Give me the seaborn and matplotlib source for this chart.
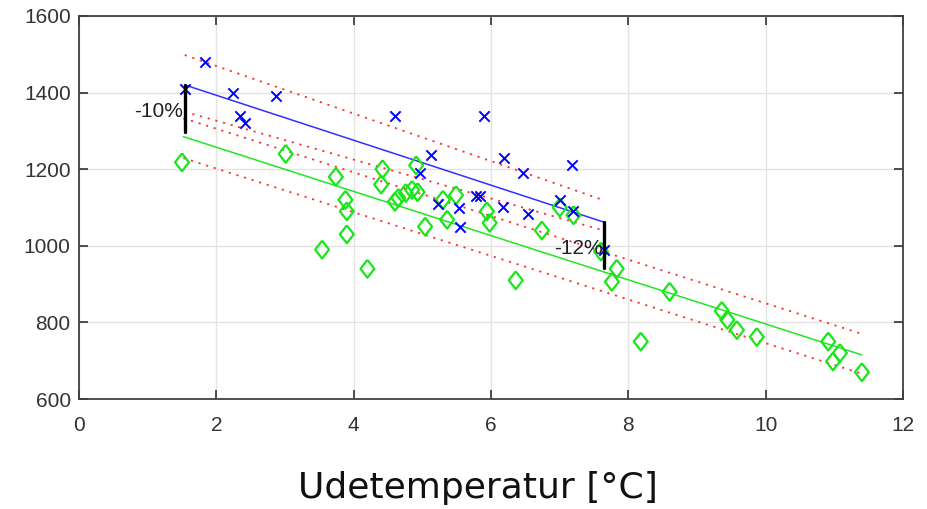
import matplotlib
matplotlib.use("Agg")
import matplotlib.pyplot as plt
import seaborn as sns

# punkter (blå x = før, grøn diamant = efter)
blue_x = [1.54, 1.83, 2.24, 2.34, 2.42, 2.87, 4.60, 4.96, 5.12, 5.23, 5.53, 5.55,
          5.78, 5.84, 5.90, 6.17, 6.19, 6.47, 6.54, 7.00, 7.18, 7.19, 7.65]
blue_y = [1410, 1480, 1400, 1340, 1320, 1390, 1340, 1190, 1238, 1110, 1098, 1050,
          1130, 1130, 1340, 1100, 1230, 1190, 1082, 1120, 1210, 1090, 990]

green_x = [1.50, 3.01, 3.54, 3.74, 3.88, 3.90, 3.90, 4.20, 4.40, 4.42, 4.60, 4.65,
           4.76, 4.85, 4.91, 4.93, 5.04, 5.30, 5.36, 5.49, 5.94, 5.98, 6.36, 6.74,
           7.00, 7.20, 7.60, 7.76, 7.83, 8.18, 8.60, 9.36, 9.44, 9.58, 9.87, 10.91,
           10.98, 11.08, 11.40]
green_y = [1218, 1240, 990, 1180, 1120, 1090, 1030, 940, 1160, 1200, 1115, 1125,
           1138, 1146, 1210, 1140, 1050, 1120, 1068, 1132, 1090, 1060, 910, 1040,
           1100, 1080, 985, 906, 940, 750, 880, 830, 807, 780, 762, 750,
           698, 720, 670]

# regressionslinjer og bånd (endepunkter)
blue_fit_x = [1.54, 7.64]
blue_fit_y = [1420, 1062]
blue_hi_y = [1498, 1119]
blue_lo_y = [1350, 1040]

green_fit_x = [1.52, 11.40]
green_fit_y = [1285, 715]
green_hi_y = [1333, 770]
green_lo_y = [1229, 666]

# markering af fald
drop_labels = ["-10%", "-12%"]
drop_x = [1.54, 7.65]
drop_top = [1420, 1062]
drop_bottom = [1298, 942]
drop_label_y = [1350, 992]

xticks = [0, 2, 4, 6, 8, 10, 12]
yticks = [600, 800, 1000, 1200, 1400, 1600]

sns.set_style("ticks")
plt.rcParams["font.family"] = ["Liberation Sans", "DejaVu Sans"]

fig = plt.figure(figsize=(9.27, 5.09), dpi=100)
ax = fig.add_axes([0.0852, 0.2161, 0.889, 0.7525])

red = "#ff3030"
blue = "#0000ff"
green = "#19e619"
dots = (0, (1.2, 3.2))

# dottede bånd
for yy in [blue_hi_y, blue_lo_y]:
    sns.lineplot(x=blue_fit_x, y=yy, ax=ax, color=red, linestyle=dots, linewidth=1.3)
for yy in [green_hi_y, green_lo_y]:
    sns.lineplot(x=green_fit_x, y=yy, ax=ax, color=red, linestyle=dots, linewidth=1.3)

sns.lineplot(x=blue_fit_x, y=blue_fit_y, ax=ax, color="#3030ff", linewidth=1.1)
sns.lineplot(x=green_fit_x, y=green_fit_y, ax=ax, color="#22e622", linewidth=1.1)

diamond = [(0, 1), (0.78, 0), (0, -1), (-0.78, 0), (0, 1)]
sns.scatterplot(x=green_x, y=green_y, ax=ax, marker=diamond, s=165,
                facecolors="none", edgecolor=green, linewidth=1.6, zorder=3)
sns.scatterplot(x=blue_x, y=blue_y, ax=ax, marker="x", s=55,
                color=blue, linewidth=1.4, zorder=4)

for i in range(len(drop_x)):
    ax.plot([drop_x[i], drop_x[i]], [drop_top[i], drop_bottom[i]], color="black",
            linewidth=2.4, zorder=5)
    ax.text(drop_x[i] - 0.03, drop_label_y[i], drop_labels[i], ha="right",
            va="center", fontsize=15, color="#222222", zorder=6)

ax.set_xlim(0, 12)
ax.set_ylim(600, 1600)
ax.set_xticks(xticks)
ax.set_yticks(yticks)
ax.grid(True, color="#e3e3e3", linewidth=1)
ax.set_axisbelow(True)
for s in ax.spines.values():
    s.set_visible(True)
    s.set_color("#404040")
    s.set_linewidth(1.3)
ax.tick_params(direction="in", length=6.5, width=1.3, color="#404040",
               top=True, right=True, labelsize=15, labelcolor="#333333")
ax.tick_params(axis="x", pad=12)
ax.tick_params(axis="y", pad=6)

ax.set_xlabel("Udetemperatur [°C]", fontsize=26, family="DejaVu Sans",
              color="#111111", va="center")
ax.xaxis.set_label_coords(0.484, -0.232)
ax.set_ylabel("")

plt.savefig("out.png", dpi=100)
